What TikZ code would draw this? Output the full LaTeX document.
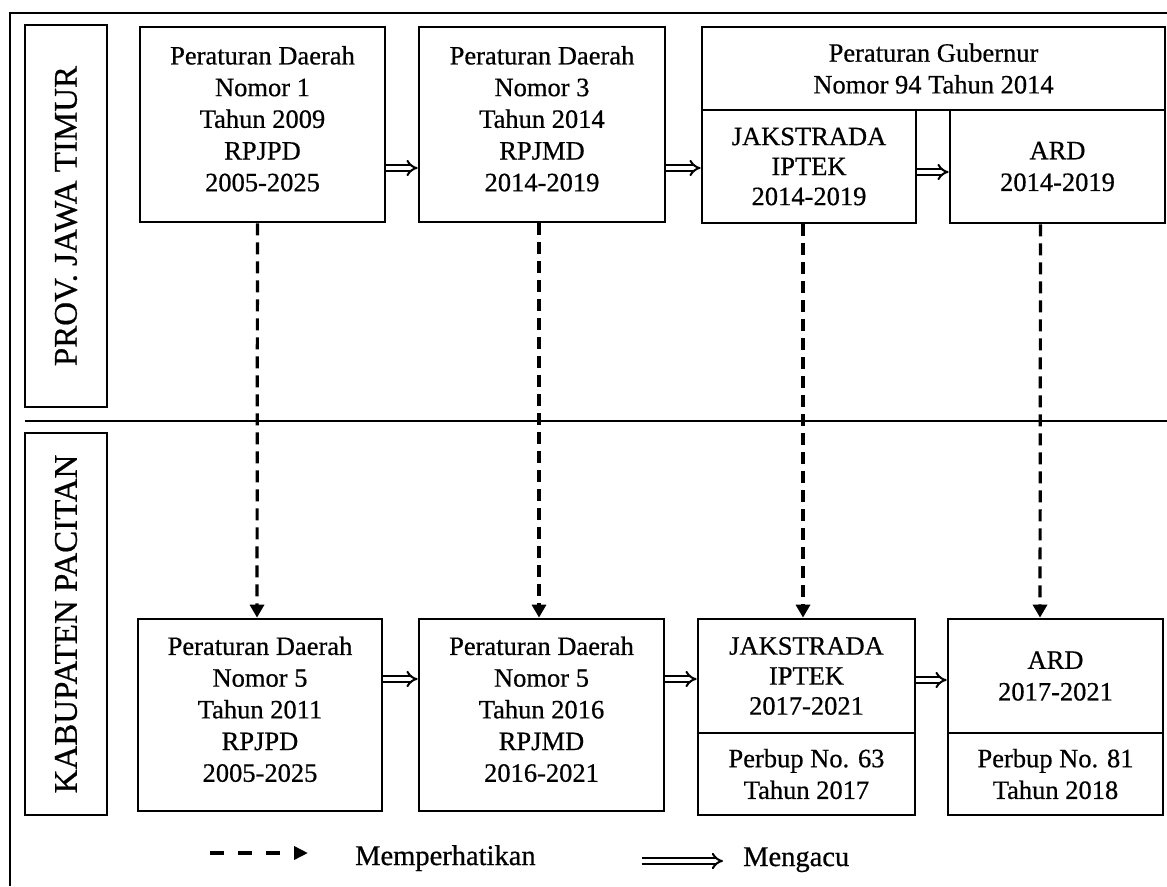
\documentclass[tikz,border=0pt]{standalone}
\usepackage{fontspec}
\setmainfont{Liberation Serif}[FakeBold=0.6]
\usetikzlibrary{arrows.meta}
\newcommand\bodyf{\fontsize{26.5}{31.7}\selectfont}
\newcommand\lblf{\fontsize{33}{38}\selectfont}
\newcommand\legf{\fontsize{28.5}{32}\selectfont}
\begin{document}
\begin{tikzpicture}[x=1pt,y=-1pt,
  bx/.style={draw, line width=2.7pt, align=center, font=\bodyf, inner sep=0pt},
  lbl/.style={draw, line width=2.7pt, font=\lblf, inner sep=0pt, rotate=90},
  dbl/.style={double, double distance=3.4pt, line width=2pt, -{Implies[scale=1.4]}},
  dsh/.style={line width=3.2pt, dash pattern=on 12pt off 7pt, -{Triangle[length=13pt,width=14pt]}},
  leg/.style={font=\legf, inner sep=0pt, anchor=base west}]
\useasboundingbox (0,0) rectangle (1167,886);
% frame
\draw[line width=2.7pt] (10,886) -- (10,13) -- (1167,13);
\draw[line width=2.7pt] (25,421) -- (1167,421);
% side labels
\node[lbl, minimum width=382, minimum height=82] (lp) at (66,216) {PROV. JAWA TIMUR};
\node[lbl, minimum width=382, minimum height=82] (lk) at (66,624) {KABUPATEN PACITAN};
% top row
\node[bx, minimum width=245, minimum height=195] (t1) at (262.5,124.5)
  {Peraturan Daerah\\Nomor 1\\Tahun 2009\\RPJPD\\2005-2025\\[-20pt]};
\node[bx, minimum width=246, minimum height=195] (t2) at (542,124.5)
  {Peraturan Daerah\\Nomor 3\\Tahun 2014\\RPJMD\\2014-2019\\[-20pt]};
\node[bx, minimum width=463, minimum height=83] (gub) at (933.5,68.5)
  {Peraturan Gubernur\\Nomor 94 Tahun 2014};
\node[bx, minimum width=214, minimum height=113, font=\fontsize{26.5}{30}\selectfont] (tj) at (809,166.5)
  {JAKSTRADA\\IPTEK\\2014-2019};
\node[bx, minimum width=215, minimum height=113] (ta) at (1057.5,166.5)
  {ARD\\2014-2019};
% bottom row
\node[bx, minimum width=244, minimum height=192] (b1) at (260,715)
  {Peraturan Daerah\\Nomor 5\\Tahun 2011\\RPJPD\\2005-2025\\[-20pt]};
\node[bx, minimum width=245, minimum height=192] (b2) at (541.5,715)
  {Peraturan Daerah\\Nomor 5\\Tahun 2016\\RPJMD\\2016-2021\\[-20pt]};
\node[bx, minimum width=217, minimum height=114, font=\fontsize{26.5}{30}\selectfont] (bj) at (806.5,676)
  {JAKSTRADA\\IPTEK\\2017-2021};
\node[bx, minimum width=217, minimum height=82] (bjp) at (806.5,774)
  {Perbup No. 63\\Tahun 2017};
\node[bx, minimum width=215, minimum height=114] (ba) at (1055.5,676)
  {ARD\\2017-2021};
\node[bx, minimum width=215, minimum height=82] (bap) at (1055.5,774)
  {Perbup No. 81\\Tahun 2018};
% solid (Mengacu) arrows
\draw[dbl] ([yshift=-43.5pt]t1.east) -- ([yshift=-43.5pt]t2.west);
\coordinate (a2) at ([yshift=-43.5pt]t2.east);
\draw[dbl] (a2) -- (a2 -| tj.west);
\draw[dbl] ([yshift=-5.5pt]tj.east) -- ([yshift=-5.5pt]ta.west);
\draw[dbl] ([yshift=36pt]b1.east) -- ([yshift=36pt]b2.west);
\coordinate (a5) at ([yshift=36pt]b2.east);
\draw[dbl] (a5) -- (a5 -| bj.west);
\draw[dbl] ([yshift=-4pt]bj.east) -- ([yshift=-4pt]ba.west);
% dashed (Memperhatikan) arrows
\draw[dsh] ([xshift=-5pt]t1.south) -- ([xshift=-3pt]b1.north);
\draw[dsh] ([xshift=-3pt]t2.south) -- ([xshift=-2.5pt]b2.north);
\draw[dsh] ([xshift=-6pt]tj.south) -- ([xshift=-3.5pt]bj.north);
\draw[dsh] ([xshift=-17pt]ta.south) -- ([xshift=-15.5pt]ba.north);
% legend
\coordinate (ld1) at (210,853);
\coordinate (ld2) at (308,853);
\draw[line width=3.5pt, dash pattern=on 13.5pt off 14.5pt, -{Triangle[length=14pt,width=13pt]}] (ld1) -- (ld2);
\node[leg] (lm) at (355,865) {Memperhatikan};
\coordinate (lm1) at (642,861);
\coordinate (lm2) at (723,861);
\draw[dbl] (lm1) -- (lm2);
\node[leg] (lg) at (743,866) {Mengacu};
\end{tikzpicture}
\end{document}
